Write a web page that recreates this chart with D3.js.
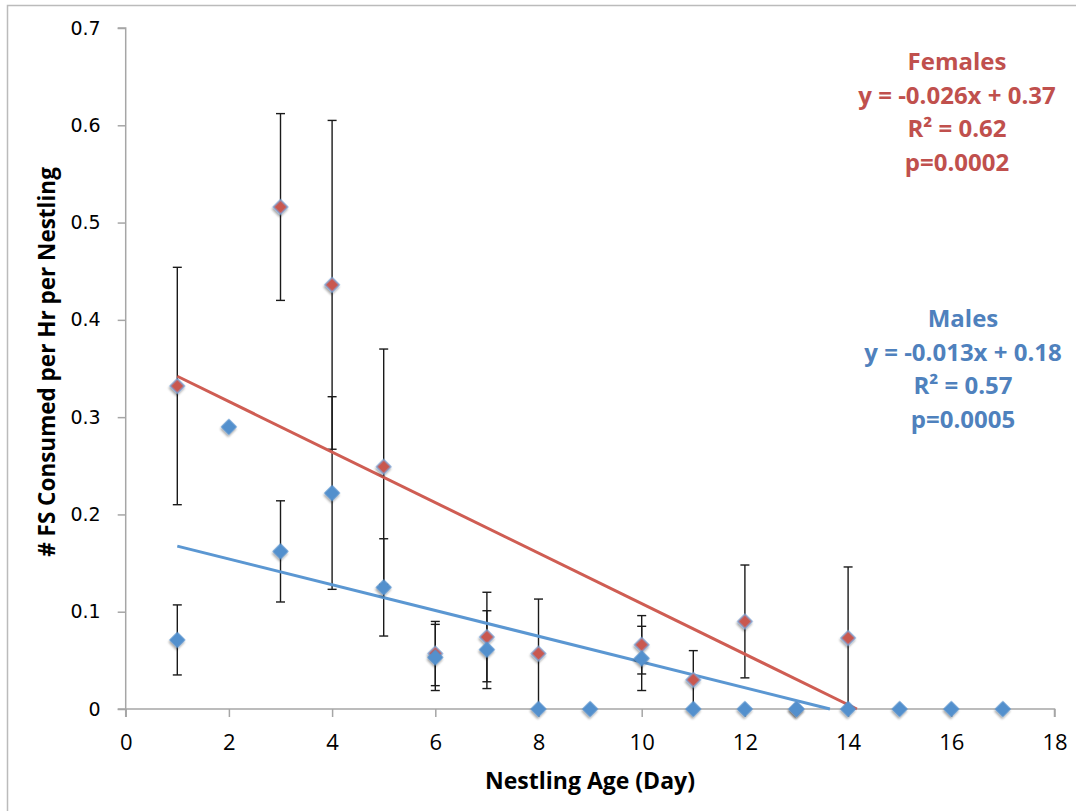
<!DOCTYPE html>
<html>
<head>
<meta charset="utf-8">
<script src="https://cdn.jsdelivr.net/npm/d3@7"></script>
<style>
  body { margin: 0; background: #fff; }
  svg { display: block; }
</style>
</head>
<body>
<div id="chart"></div>
<script>
// nestling age (days)
const femaleDays = [1, 3, 4, 5, 6, 7, 8, 10, 11, 12, 13, 14]
const femaleVals = [0.332, 0.516, 0.436, 0.249, 0.057, 0.074, 0.057, 0.066, 0.030, 0.090, 0, 0.073]
const femaleErr  = [0.122, 0.096, 0.169, 0.121, 0.033, 0.046, 0.056, 0.030, 0.030, 0.058, 0, 0.073]

const maleDays = [1, 2, 3, 4, 5, 6, 7, 8, 9, 10, 11, 12, 13, 14, 15, 16, 17]
const maleVals = [0.071, 0.290, 0.162, 0.222, 0.125, 0.053, 0.061, 0, 0, 0.052, 0, 0, 0, 0, 0, 0, 0]
const maleErr  = [0.036, 0, 0.052, 0.099, 0.050, 0.034, 0.040, 0, 0, 0.033, 0, 0, 0, 0, 0, 0, 0]

// trendline coefficients (slope, intercept)
const femaleTrend = [-0.02597, 0.368]
const maleTrend = [-0.01324, 0.1807]

const xTicks = [0, 2, 4, 6, 8, 10, 12, 14, 16, 18]
const yTicks = [0, 0.1, 0.2, 0.3, 0.4, 0.5, 0.6, 0.7]

const femaleLabel = ['Females', 'y = -0.026x + 0.37', 'R² = 0.62', 'p=0.0002']
const maleLabel = ['Males', 'y = -0.013x + 0.18', 'R² = 0.57', 'p=0.0005']

const width = 1076
const height = 811
const red = '#C9584F'
const blue = '#5390CD'

const svg = d3.select('#chart').append('svg')
  .attr('width', width)
  .attr('height', height)

const defs = svg.append('defs')
const shadow = defs.append('filter').attr('id', 'shadow')
  .attr('x', '-50%').attr('y', '-50%').attr('width', '200%').attr('height', '200%')
shadow.append('feDropShadow')
  .attr('dx', 1).attr('dy', 2).attr('stdDeviation', 1.3)
  .attr('flood-color', '#000').attr('flood-opacity', 0.35)

// outer frame
svg.append('rect')
  .attr('x', 7.5).attr('y', 5.5)
  .attr('width', width + 20).attr('height', height + 20)
  .attr('fill', 'none').attr('stroke', '#bbb').attr('stroke-width', 1.5)

const x = d3.scaleLinear().domain([0, 18]).range([125.7, 1054.5])
const y = d3.scaleLinear().domain([0, 0.7]).range([709, 28])

// axes
const xAxis = svg.append('g')
  .attr('transform', `translate(0,${y(0)})`)
  .call(d3.axisBottom(x).tickValues(xTicks).tickSize(8).tickPadding(17).tickFormat(d3.format('d')))
xAxis.select('.domain').attr('stroke', '#a6a6a6').attr('stroke-width', 1.5)
  .attr('d', `M${x(0)},8V0H${x(18)}V8`)
xAxis.selectAll('.tick line').attr('stroke', '#a6a6a6').attr('stroke-width', 1.5)
xAxis.selectAll('.tick text')
  .attr('font-family', 'Open Sans, sans-serif').attr('font-size', 22).attr('fill', '#000')

const yAxis = svg.append('g')
  .attr('transform', `translate(${x(0)},0)`)
  .call(d3.axisLeft(y).tickValues(yTicks).tickSize(8).tickPadding(17).tickFormat(d => d === 0 ? '0' : d.toFixed(1)))
yAxis.select('.domain').attr('stroke', '#a6a6a6').attr('stroke-width', 1.5)
  .attr('d', `M-8,${y(0.7)}H0V${y(0)}H-8`)
yAxis.selectAll('.tick line').attr('stroke', '#a6a6a6').attr('stroke-width', 1.5)
yAxis.selectAll('.tick text')
  .attr('font-family', 'DejaVu Sans, sans-serif').attr('font-size', 19).attr('fill', '#000')

// error bars
function errorBars(days, vals, errs) {
  const rows = days.map((d, i) => ({ d: d, v: vals[i], e: errs[i] })).filter(r => r.e > 0)
  const g = svg.append('g').attr('stroke', '#1a1a1a').attr('stroke-width', 1.4)
  rows.forEach(r => {
    const top = y(r.v + r.e)
    const bot = y(Math.max(0, r.v - r.e))
    g.append('line').attr('x1', x(r.d)).attr('x2', x(r.d)).attr('y1', top).attr('y2', bot)
    g.append('line').attr('x1', x(r.d) - 4.5).attr('x2', x(r.d) + 4.5).attr('y1', top).attr('y2', top)
    g.append('line').attr('x1', x(r.d) - 4.5).attr('x2', x(r.d) + 4.5).attr('y1', bot).attr('y2', bot)
  })
}
errorBars(femaleDays, femaleVals, femaleErr)
errorBars(maleDays, maleVals, maleErr)

// trend lines, from day 1 until they hit zero
function trend(coef, color) {
  const x0 = 1
  const x1 = -coef[1] / coef[0]
  svg.append('line')
    .attr('x1', x(x0)).attr('y1', y(coef[0] * x0 + coef[1]))
    .attr('x2', x(x1)).attr('y2', y(0))
    .attr('stroke', color).attr('stroke-width', 3)
}
trend(femaleTrend, '#CF5D53')
trend(maleTrend, '#5B97D2')

// markers
const diamond = d3.symbol().type(d3.symbolSquare).size(104)
function markers(days, vals, fill, stroke) {
  svg.append('g').selectAll('path')
    .data(days.map((d, i) => [d, vals[i]]))
    .join('path')
    .attr('d', diamond)
    .attr('transform', d => `translate(${x(d[0])},${y(d[1])}) rotate(45)`)
    .attr('fill', fill)
    .attr('stroke', stroke)
    .attr('stroke-width', 1.2)
    .attr('filter', 'url(#shadow)')
}
markers(femaleDays, femaleVals, red, '#79A7DA')
markers(maleDays, maleVals, blue, blue)

// annotations
function note(lines, cx, y0, color) {
  const t = svg.append('text')
    .attr('text-anchor', 'middle')
    .attr('font-family', 'Open Sans, sans-serif')
    .attr('font-weight', 'bold')
    .attr('font-size', 24)
    .attr('fill', color)
  lines.forEach((s, i) => {
    t.append('tspan').attr('x', cx).attr('y', y0 + i * 33.5).text(s)
  })
}
note(femaleLabel, 957, 70, '#C0504D')
note(maleLabel, 963, 327, '#4F81BD')

// axis titles
svg.append('text')
  .attr('x', 590).attr('y', 789)
  .attr('text-anchor', 'middle')
  .attr('font-family', 'Open Sans, sans-serif')
  .attr('font-weight', 'bold').attr('font-size', 23)
  .text('Nestling Age (Day)')

svg.append('text')
  .attr('transform', 'translate(55,362) rotate(-90)')
  .attr('text-anchor', 'middle')
  .attr('font-family', 'Open Sans, sans-serif')
  .attr('font-weight', 'bold').attr('font-size', 22.5)
  .text('# FS Consumed per Hr per Nestling')
</script>
</body>
</html>
